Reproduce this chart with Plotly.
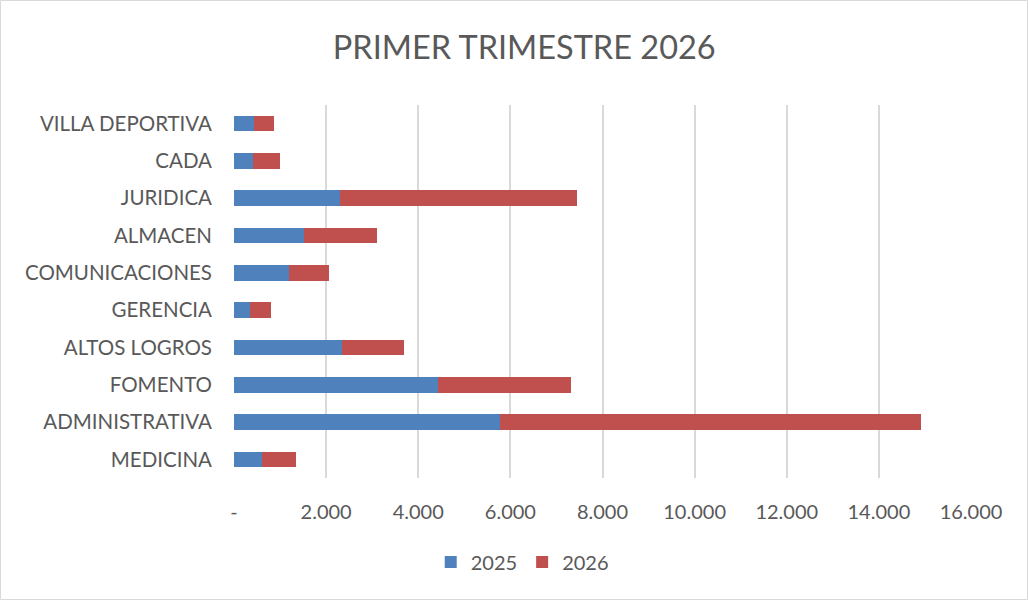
import plotly.graph_objects as go

categories = ["MEDICINA", "ADMINISTRATIVA", "FOMENTO", "ALTOS LOGROS", "GERENCIA",
              "COMUNICACIONES", "ALMACEN", "JURIDICA", "CADA", "VILLA DEPORTIVA"]
values_2025 = [600, 5785, 4420, 2355, 355, 1192, 1525, 2297, 405, 440]
values_2026 = [743, 9130, 2903, 1337, 447, 880, 1590, 5155, 590, 420]
tick_vals = [0, 2000, 4000, 6000, 8000, 10000, 12000, 14000, 16000]
tick_text = ["-", "2.000", "4.000", "6.000", "8.000", "10.000", "12.000", "14.000", "16.000"]

W, H = 1028, 600
ml, mr, mt, mb = 234, 57, 105, 122
pw, ph = W - ml - mr, H - mt - mb

fig = go.Figure()
fig.add_trace(go.Bar(y=categories, x=values_2025, orientation="h", name="2025",
                     marker=dict(color="#4F81BD", line=dict(width=0))))
fig.add_trace(go.Bar(y=categories, x=values_2026, orientation="h", name="2026",
                     marker=dict(color="#C0504D", line=dict(width=0))))

font_family = "Lato, 'Open Sans', sans-serif"
fig.update_layout(
    width=W, height=H,
    barmode="stack", bargap=0.58,
    margin=dict(l=ml, r=mr, t=mt, b=mb),
    paper_bgcolor="white", plot_bgcolor="white",
    font=dict(family=font_family, size=20, color="#595959"),
    title=dict(text="PRIMER TRIMESTRE 2026", x=0.51, xref="container", xanchor="center",
               y=1 - 48 / H, yanchor="middle", yref="container",
               font=dict(size=32.5, color="#595959", family=font_family)),
    xaxis=dict(range=[0, 16000], tickvals=tick_vals, ticktext=tick_text,
               showgrid=True, gridcolor="#d9d9d9", gridwidth=1.5,
               zeroline=False, showline=False, ticks="", ticklabelstandoff=20,
               tickfont=dict(size=20, color="#595959")),
    yaxis=dict(showgrid=False, zeroline=False, showline=False, ticks="",
               ticklabelstandoff=21, tickfont=dict(size=20.5, color="#595959"),
               categoryorder="array", categoryarray=categories),
    legend=dict(orientation="h", x=0.508, xref="container", xanchor="center",
                y=1 - 562 / H, yref="container", yanchor="middle",
                font=dict(size=20, color="#595959"), traceorder="normal",
                itemwidth=30),
    shapes=[dict(type="rect", xref="paper", yref="paper",
                 x0=(0.5 - ml) / pw, x1=(W - 0.5 - ml) / pw,
                 y0=-(mb - 0.5) / ph,
                 y1=1 + (mt - 0.5) / ph,
                 line=dict(color="#d9d9d9", width=1), layer="below")],
)

fig.write_html("out.html", config={"displayModeBar": False},
               post_script="document.body.style.margin='0';")
